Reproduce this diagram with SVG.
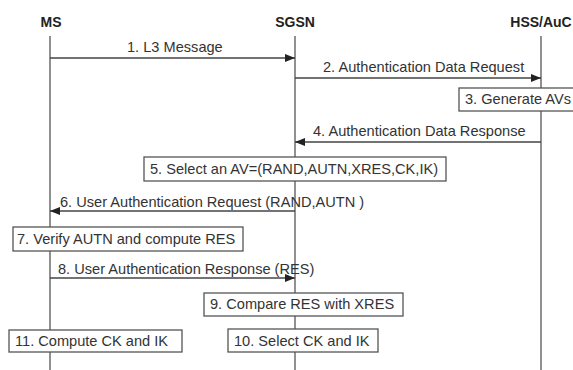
<svg xmlns="http://www.w3.org/2000/svg" width="573" height="370" viewBox="0 0 573 370">
<style>
.hdr{font-family:"Liberation Sans",Arial,sans-serif;font-size:14px;font-weight:bold;fill:#222;text-anchor:middle}
.t{font-family:"Liberation Sans",Arial,sans-serif;font-size:14.6px;fill:#333}
.life{stroke:#555;stroke-width:1.3;fill:none}
.msg{stroke:#444;stroke-width:1.3;fill:none;marker-end:url(#ah)}
.box{fill:#fff;stroke:#555;stroke-width:1.3}
</style>
<defs>
<marker id="ah" viewBox="0 0 10 8" refX="10" refY="4" markerWidth="10" markerHeight="8" markerUnits="userSpaceOnUse" orient="auto">
<path d="M0,0 L10,4 L0,8 Z" fill="#222"/>
</marker>
</defs>
<g id="MS"><text class="hdr" x="51" y="27">MS</text><line class="life" x1="50" y1="36" x2="50" y2="370"/></g>
<g id="SGSN"><text class="hdr" x="295" y="27">SGSN</text><line class="life" x1="295" y1="36" x2="295" y2="370"/></g>
<g id="HSS"><text class="hdr" x="541" y="27">HSS/AuC</text><line class="life" x1="541" y1="36" x2="541" y2="370"/></g>
<g id="connectors">
<line class="msg" x1="50" y1="58" x2="295" y2="58"/>
<text class="t" x="127" y="52">1. L3 Message</text>
<line class="msg" x1="295" y1="78" x2="541" y2="78"/>
<text class="t" x="323" y="72">2. Authentication Data Request</text>
<line class="msg" x1="541" y1="142" x2="295" y2="142"/>
<text class="t" x="313" y="136">4. Authentication Data Response</text>
<line class="msg" x1="295" y1="211" x2="50" y2="211"/>
<text class="t" x="60" y="207">6. User Authentication Request (RAND,AUTN )</text>
<line class="msg" x1="50" y1="278" x2="295" y2="278"/>
<text class="t" x="58" y="274">8. User Authentication Response (RES)</text>
</g>
<g id="box3"><rect class="box" x="459" y="88" width="118" height="23"/><text class="t" x="465" y="104">3. Generate AVs</text></g>
<g id="box5"><rect class="box" x="144" y="157" width="302" height="24"/><text class="t" x="150" y="174">5. Select an AV=(RAND,AUTN,XRES,CK,IK)</text></g>
<g id="box7"><rect class="box" x="13" y="227" width="230" height="24"/><text class="t" x="17" y="244">7. Verify AUTN and compute RES</text></g>
<g id="box9"><rect class="box" x="204" y="293" width="199" height="23"/><text class="t" x="210" y="309">9. Compare RES with XRES</text></g>
<g id="box10"><rect class="box" x="228" y="329" width="150" height="23"/><text class="t" x="234" y="346">10. Select CK and IK</text></g>
<g id="box11"><rect class="box" x="9" y="330" width="173" height="22"/><text class="t" x="15" y="346">11. Compute CK and IK</text></g>
</svg>
